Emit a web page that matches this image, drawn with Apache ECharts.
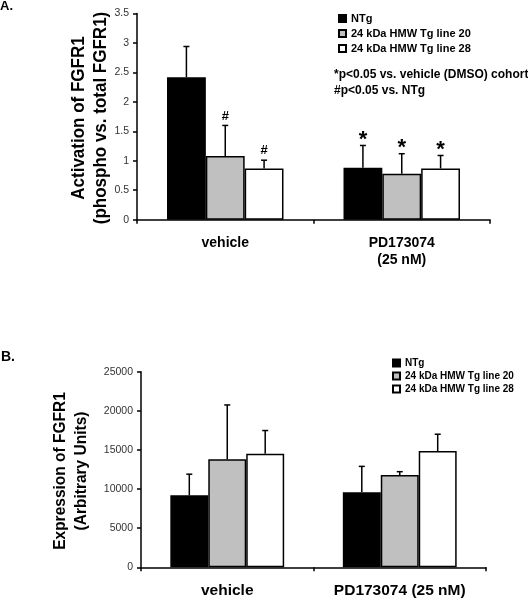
<!DOCTYPE html>
<html>
<head>
<meta charset="utf-8">
<script src="https://cdn.jsdelivr.net/npm/echarts@6/dist/echarts.min.js"></script>
<style>
html,body{margin:0;padding:0;background:#fff;}
#main{width:528px;height:600px;}
</style>
</head>
<body>
<div id="main"></div>
<script>
// ---- Data ----
var seriesNames = ['NTg', '24 kDa HMW Tg line 20', '24 kDa HMW Tg line 28'];

// Panel A
var categoriesA = ['vehicle', 'PD173074\n(25 nM)'];
var ntgA = [2.42, 0.88];
var ntgErrA = [0.52, 0.38];
var l20A = [1.08, 0.78];
var l20ErrA = [0.52, 0.34];
var l28A = [0.87, 0.87];
var l28ErrA = [0.14, 0.22];
var ntgMarkA = ['', '*'];
var l20MarkA = ['#', '*'];
var l28MarkA = ['#', '*'];
var yTicksA = {min: 0, max: 3.5, interval: 0.5};

// Panel B
var categoriesB = ['vehicle', 'PD173074 (25 nM)'];
var ntgB = [9200, 9600];
var ntgErrB = [2700, 3300];
var l20B = [13800, 11800];
var l20ErrB = [6950, 420];
var l28B = [14500, 14870];
var l28ErrB = [2980, 2140];
var yTicksB = {min: 0, max: 25000, interval: 5000};

var colors = ['#000000', '#c0c0c0', '#ffffff'];
var catGapPct = 34;
var font = '"Liberation Sans", Arial, sans-serif';

var chart = echarts.init(document.getElementById('main'));

function barSeries(name, idx, axisIdx, data) {
  return {
    type: 'bar', name: name, xAxisIndex: axisIdx, yAxisIndex: axisIdx,
    data: data, barGap: '0%', barCategoryGap: catGapPct + '%',
    itemStyle: {color: colors[idx], borderColor: '#000', borderWidth: 1.5},
    emphasis: {disabled: true}, silent: true, z: 2
  };
}

function errSeries(idx, axisIdx, vals, errs, marks) {
  var d = vals.map(function (v, i) { return [i, v, errs[i]]; });
  return {
    type: 'custom', xAxisIndex: axisIdx, yAxisIndex: axisIdx, silent: true, z: 3,
    data: d,
    renderItem: function (params, api) {
      var ci = api.value(0), v = api.value(1), e = api.value(2);
      var base = api.coord([ci, v]);
      var top = api.coord([ci, v + e]);
      var bw = api.size([1, 0])[0] * (1 - catGapPct / 100) / 3;
      var x = base[0] + (idx - 1) * bw;
      var children = [
        {type: 'line', shape: {x1: x, y1: base[1], x2: x, y2: top[1]},
          style: {stroke: '#000', lineWidth: 1.5}},
        {type: 'line', shape: {x1: x - 3, y1: top[1], x2: x + 3, y2: top[1]},
          style: {stroke: '#000', lineWidth: 1.5}}
      ];
      var m = marks ? marks[params.dataIndex] : '';
      if (m) {
        var isStar = m === '*';
        children.push({type: 'text', x: x, y: top[1] - (isStar ? -5 : 3),
          style: {text: m, align: 'center', verticalAlign: 'bottom',
            fontSize: isStar ? 22 : 13, fontWeight: 'bold', fontFamily: font,
            fill: '#000'}});
      }
      return {type: 'group', children: children};
    }
  };
}

var gridA = {left: 137, right: 38, top: 13.5, height: 206.2};
var gridB = {left: 141, right: 42, top: 371.7, height: 195.6};

function xAxisCfg(gi, cats, fs) {
  return {
    type: 'category', gridIndex: gi, data: cats,
    axisLine: {lineStyle: {color: '#000', width: 1.5}},
    axisTick: {show: true, length: 4, inside: false, lineStyle: {color: '#000', width: 1.5}},
    axisLabel: {color: '#000', fontWeight: 'bold', fontSize: fs, margin: 15, lineHeight: 17,
      fontFamily: font, interval: 0},
    splitLine: {show: false}
  };
}
function yAxisCfg(gi, t) {
  return {
    type: 'value', gridIndex: gi, min: t.min, max: t.max, interval: t.interval,
    axisLine: {show: true, lineStyle: {color: '#000', width: 1.5}},
    axisTick: {show: true, length: 4, inside: false, lineStyle: {color: '#000', width: 1.5}},
    axisLabel: {color: '#333', fontSize: 10.5, margin: 8, fontFamily: font,
      formatter: function (v) { return String(v); }},
    splitLine: {show: false}
  };
}

var option = {
  animation: false,
  backgroundColor: '#fff',
  grid: [gridA, gridB],
  xAxis: [xAxisCfg(0, categoriesA, 14), xAxisCfg(1, categoriesB, 15.5)],
  yAxis: [yAxisCfg(0, yTicksA), yAxisCfg(1, yTicksB)],
  legend: [
    {left: 333, top: 8, orient: 'vertical', itemWidth: 7, itemHeight: 7, itemGap: 4,
      icon: 'rect', selectedMode: false, data: seriesNames,
      textStyle: {fontWeight: 'bold', fontSize: 11, color: '#000', fontFamily: font}},
    {left: 387, top: 353, orient: 'vertical', itemWidth: 7, itemHeight: 7, itemGap: 3,
      icon: 'rect', selectedMode: false, data: seriesNames,
      textStyle: {fontWeight: 'bold', fontSize: 10, color: '#000', fontFamily: font}}
  ],
  graphic: [
    {type: 'text', left: 0, top: 0, style: {text: 'A.', fontSize: 13, fontWeight: 'bold', fontFamily: font, fill: '#000'}},
    {type: 'text', left: 1, top: 350, style: {text: 'B.', fontSize: 14, fontWeight: 'bold', fontFamily: font, fill: '#000'}},
    {type: 'text', x: 90, y: 118, rotation: Math.PI / 2, scaleY: 1.1,
      style: {text: 'Activation of FGFR1\n(phospho vs. total FGFR1)', align: 'center', verticalAlign: 'middle',
        fontSize: 17, fontWeight: 'bold', fontFamily: font, lineHeight: 19.5, fill: '#000'}},
    {type: 'text', x: 71, y: 471, rotation: Math.PI / 2, scaleY: 1.05,
      style: {text: 'Expression of FGFR1\n(Arbitrary Units)', align: 'center', verticalAlign: 'middle',
        fontSize: 15.5, fontWeight: 'bold', fontFamily: font, lineHeight: 20, fill: '#000'}},
    {type: 'text', left: 334, top: 67,
      style: {text: '*p<0.05 vs. vehicle (DMSO) cohort\n#p<0.05 vs. NTg', fontSize: 12, fontWeight: 'bold',
        fontFamily: font, lineHeight: 16, fill: '#000'}}
  ],
  series: [
    barSeries(seriesNames[0], 0, 0, ntgA),
    barSeries(seriesNames[1], 1, 0, l20A),
    barSeries(seriesNames[2], 2, 0, l28A),
    barSeries(seriesNames[0], 0, 1, ntgB),
    barSeries(seriesNames[1], 1, 1, l20B),
    barSeries(seriesNames[2], 2, 1, l28B),
    errSeries(0, 0, ntgA, ntgErrA, ntgMarkA),
    errSeries(1, 0, l20A, l20ErrA, l20MarkA),
    errSeries(2, 0, l28A, l28ErrA, l28MarkA),
    errSeries(0, 1, ntgB, ntgErrB, null),
    errSeries(1, 1, l20B, l20ErrB, null),
    errSeries(2, 1, l28B, l28ErrB, null)
  ]
};
chart.setOption(option);
</script>
</body>
</html>
